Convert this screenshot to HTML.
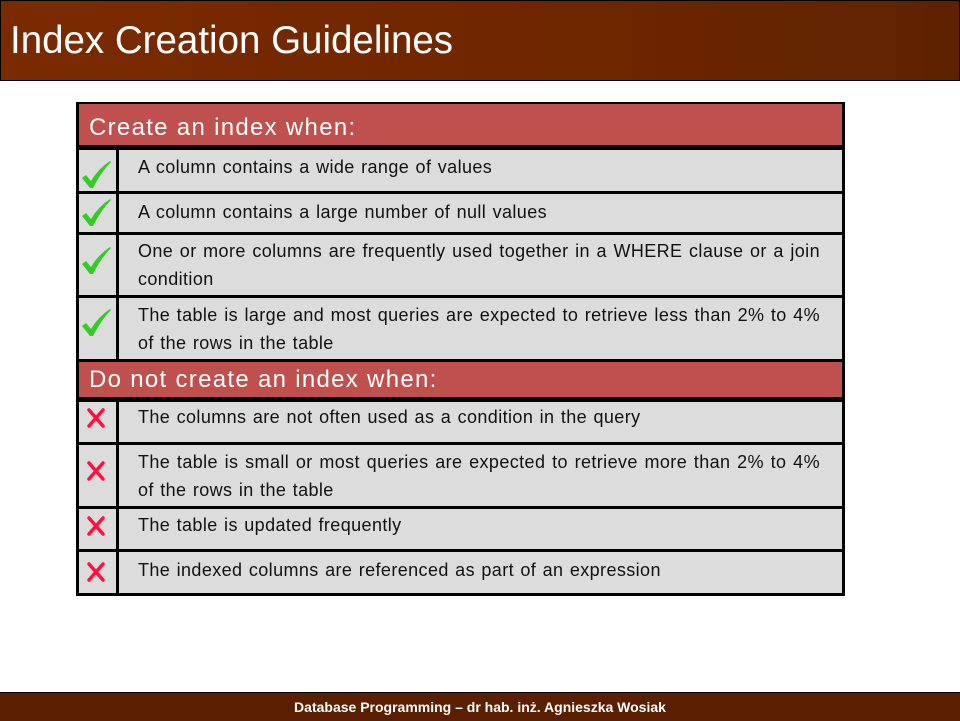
<!DOCTYPE html>
<html><head><meta charset="utf-8"><style>
body{margin:0;width:960px;height:720px;position:relative;background:#fff;font-family:"Liberation Sans",sans-serif;overflow:hidden}
.a{position:absolute}
.t{position:absolute;left:138px;width:682px;font-size:18px;line-height:28px;color:#111;white-space:nowrap;letter-spacing:0.4px;word-spacing:1px}
.j{text-align:justify;text-align-last:justify;word-spacing:0}
.g{background:#dcdcdc}
.r{background:#c0504d;color:#fff;font-size:24px;letter-spacing:1.3px;line-height:36px;padding-left:10px;box-sizing:border-box}
</style></head><body>
<div class="a" style="left:0;top:0;width:958px;height:79px;border:1px solid #000;background:linear-gradient(90deg,#7b2a00,#6e2600 60%,#5e2200)"></div>
<div class="a" style="left:10px;top:18px;font-size:38.5px;line-height:46px;color:#fff">Index Creation Guidelines</div>

<div class="a" style="left:76px;top:102px;width:769px;height:494px;background:#000"></div>
<div class="a r" style="left:79px;top:104px;width:763px;height:41px;line-height:48px">Create an index when:</div>
<div class="a r" style="left:79px;top:362px;width:763px;height:35px">Do not create an index when:</div>

<div class="a g" style="left:79px;top:150px;width:37px;height:41px"></div><div class="a g" style="left:119px;top:150px;width:723px;height:41px"></div>
<div class="a g" style="left:79px;top:194px;width:37px;height:38px"></div><div class="a g" style="left:119px;top:194px;width:723px;height:38px"></div>
<div class="a g" style="left:79px;top:235px;width:37px;height:60px"></div><div class="a g" style="left:119px;top:235px;width:723px;height:60px"></div>
<div class="a g" style="left:79px;top:298px;width:37px;height:61px"></div><div class="a g" style="left:119px;top:298px;width:723px;height:61px"></div>
<div class="a g" style="left:79px;top:402px;width:37px;height:40px"></div><div class="a g" style="left:119px;top:402px;width:723px;height:40px"></div>
<div class="a g" style="left:79px;top:445px;width:37px;height:61px"></div><div class="a g" style="left:119px;top:445px;width:723px;height:61px"></div>
<div class="a g" style="left:79px;top:509px;width:37px;height:40px"></div><div class="a g" style="left:119px;top:509px;width:723px;height:40px"></div>
<div class="a g" style="left:79px;top:552px;width:37px;height:41px"></div><div class="a g" style="left:119px;top:552px;width:723px;height:41px"></div>

<div class="t" style="top:153px">A column contains a wide range of values</div>
<div class="t" style="top:198px">A column contains a large number of null values</div>
<div class="t j" style="top:237px">One or more columns are frequently used together in a WHERE clause or a join</div>
<div class="t" style="top:265px">condition</div>
<div class="t j" style="top:301px">The table is large and most queries are expected to retrieve less than 2% to 4%</div>
<div class="t" style="top:329px">of the rows in the table</div>
<div class="t" style="top:403px">The columns are not often used as a condition in the query</div>
<div class="t j" style="top:448px">The table is small or most queries are expected to retrieve more than 2% to 4%</div>
<div class="t" style="top:476px">of the rows in the table</div>
<div class="t" style="top:511px">The table is updated frequently</div>
<div class="t" style="top:556px">The indexed columns are referenced as part of an expression</div>

<svg class="a" style="left:0;top:0" width="960" height="720">
<g fill="#33cc22">
<path id="c" d="M82 178 L86 175 L91 181 Q98 169 110 161 L111 162 Q101 172 93 188 L90 188 Z"/>
<use href="#c" y="38"/><use href="#c" y="86"/><use href="#c" y="148"/>
</g>
<g stroke="#ff1040" stroke-width="3.5" stroke-linecap="round">
<path id="x" d="M89 410 L103 426 M103 410 L89 426"/>
<use href="#x" y="53"/><use href="#x" y="108"/><use href="#x" y="154"/>
</g>
</svg>

<div class="a" style="left:0;top:692px;width:960px;height:28px;border-top:1px solid #000;background:#5a1e00"></div>
<div class="a" style="left:0;top:693px;width:960px;text-align:center;color:#fff;font-weight:bold;font-size:14px;line-height:28px">Database Programming – dr hab. inż. Agnieszka Wosiak</div>
</body></html>
